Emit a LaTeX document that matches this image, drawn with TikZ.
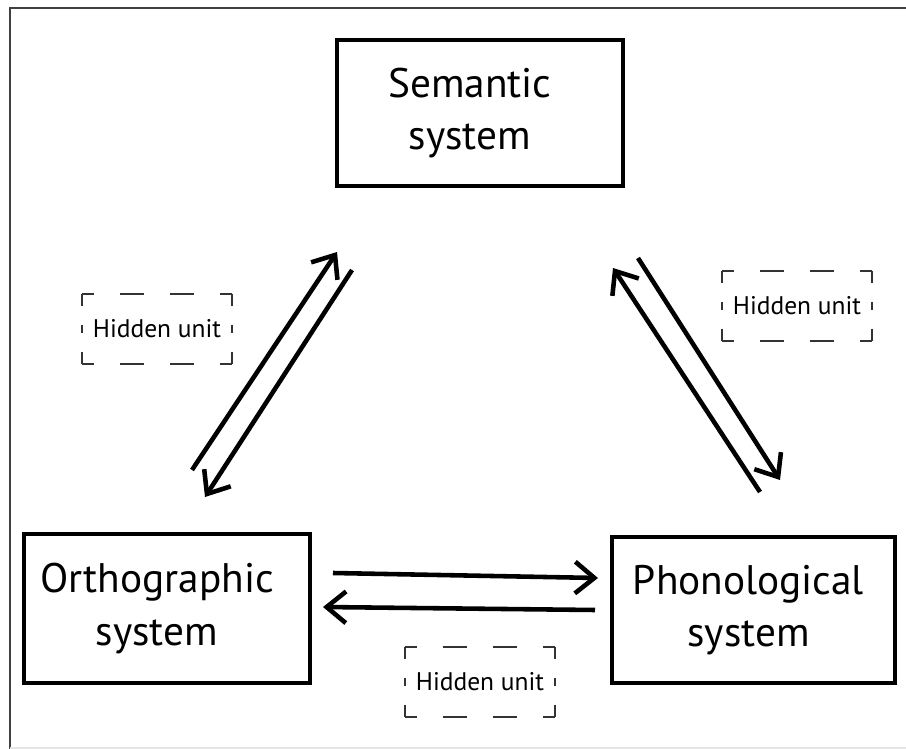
\documentclass[tikz,border=0pt]{standalone}
\usepackage{fontspec}
\setmainfont{PT Sans}
\usepackage{tikz}
\usetikzlibrary{arrows.meta}

\tikzset{
    sysbox/.style = {draw, line width = 2.3pt, align = center, font = \fontsize{23.5}{30}\selectfont},
    hidden/.style = {minimum width = 3cm, minimum height = 1.4cm, inner sep = 0pt, font = \fontsize{14.5}{17}\selectfont},
    hdash/.style = {line width = 1.3pt, black!80, dash pattern = on 6.8pt off 14.8pt on 13.7pt off 14.8pt on 13.7pt off 14.8pt on 6.8pt off 100pt},
    vdash/.style = {line width = 1.3pt, black!80, dash pattern = on 6.8pt off 10.8pt on 4.6pt off 10.8pt on 6.8pt off 100pt},
    conn/.style = {line width = 2.6pt, -{Straight Barb[length = 11pt, width = 18pt]}}
}

\begin{document}
\begin{tikzpicture}[x = 0.02cm, y = -0.02cm]
        \useasboundingbox (0, 0) rectangle (906, 749);
        \draw[line width = 1.1pt, black!75] (915, 8) -- (10, 8) -- (10, 755);
        \draw[line width = 0.8pt, black!10] (10, 748) -- (915, 748);

        \node[sysbox, minimum width = 5.72cm, minimum height = 2.92cm] (sem) at (480, 113) {Semantic\hspace*{0.4cm}\\system\hspace*{0.4cm}};
        \node[sysbox, minimum width = 5.72cm, minimum height = 2.98cm] (orth) at (167, 608.5) {Orthographic\hspace*{0.4cm}\\system\hspace*{0.4cm}};
        \node[sysbox, minimum width = 5.66cm, minimum height = 2.92cm] (phon) at (753.5, 610) {Phonological\hspace*{0.2cm}\\system\hspace*{0.2cm}};

        \node[hidden] (hu1) at (157, 329) {Hidden unit};
        \node[hidden] (hu2) at (797, 306) {Hidden unit};
        \node[hidden] (hu3) at (480, 682) {Hidden unit};

        \foreach \b in {hu1, hu2, hu3} {
            \draw[hdash] (\b.north west) -- (\b.north east);
            \draw[hdash] (\b.south west) -- (\b.south east);
            \draw[vdash] (\b.north west) -- (\b.south west);
            \draw[vdash] (\b.north east) -- (\b.south east);
        }

        \coordinate (os1) at (192, 470);
        \coordinate (so1) at (337, 252);
        \coordinate (so2) at (352, 270);
        \coordinate (os2) at (205, 497);
        \coordinate (ps1) at (760, 492);
        \coordinate (sp1) at (613, 268);
        \coordinate (sp2) at (638, 258);
        \coordinate (ps2) at (780, 480);
        \coordinate (op1) at (333, 573);
        \coordinate (po1) at (598, 578);
        \coordinate (po2) at (595, 610);
        \coordinate (op2) at (323, 607);

        \draw[conn] (os1) -- (so1);
        \draw[conn] (so2) -- (os2);
        \draw[conn] (ps1) -- (sp1);
        \draw[conn] (sp2) -- (ps2);
        \draw[conn] (op1) -- (po1);
        \draw[conn] (po2) -- (op2);
    \end{tikzpicture}
\end{document}
